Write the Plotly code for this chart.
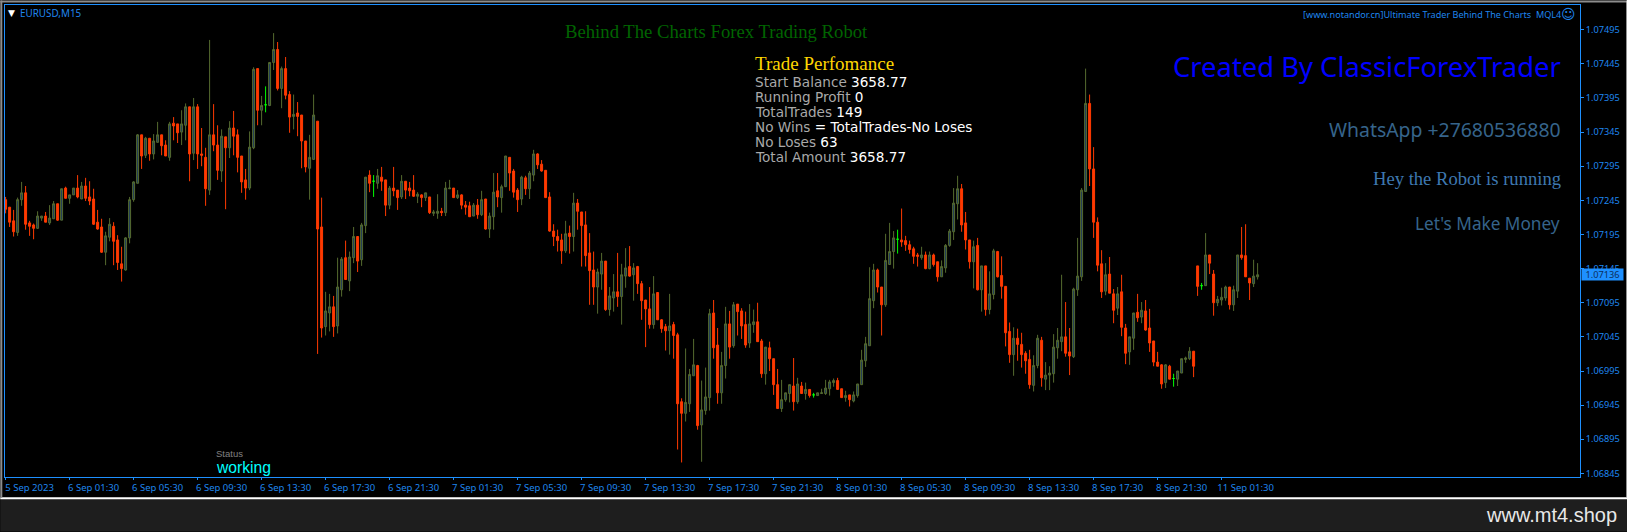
import plotly.graph_objects as go

# EURUSD M15 bars, values in points (1.07246 = 107246)
opens_pts = [
    107246, 107235, 107215, 107198, 107246, 107256, 107212, 107209, 107204, 107219,
    107222, 107212, 107218, 107240, 107216, 107263, 107248, 107253, 107263, 107247,
    107266, 107250, 107247, 107213, 107206, 107169, 107191, 107207, 107187, 107152,
    107143, 107190, 107246, 107270, 107341, 107311, 107336, 107313, 107330, 107341,
    107326, 107308, 107358, 107357, 107345, 107355, 107382, 107314, 107382, 107313,
    107308, 107260, 107341, 107326, 107288, 107338, 107322, 107351, 107341, 107310,
    107275, 107263, 107322, 107438, 107377, 107385, 107384, 107447, 107466, 107409,
    107438, 107400, 107368, 107373, 107370, 107332, 107292, 107305, 107361, 107206,
    107060, 107080, 107089, 107061, 107114, 107161, 107127, 107161, 107192, 107158,
    107208, 107282, 107273, 107270, 107279, 107275, 107238, 107263, 107260, 107250,
    107273, 107263, 107260, 107251, 107253, 107249, 107250, 107226, 107226, 107229,
    107227, 107262, 107263, 107249, 107253, 107238, 107237, 107222, 107238, 107224,
    107247, 107203, 107221, 107259, 107249, 107265, 107308, 107288, 107260, 107247,
    107278, 107262, 107282, 107313, 107298, 107289, 107250, 107200, 107192, 107187,
    107171, 107197, 107192, 107241, 107228, 107209, 107168, 107143, 107118, 107137,
    107156, 107085, 107102, 107111, 107104, 107134, 107148, 107136, 107148, 107123,
    107099, 107086, 107063, 107110, 107070, 107060, 107054, 107063, 107048, 106950,
    106933, 106947, 106988, 107003, 106916, 106937, 106956, 107080, 107033, 106963,
    107003, 107064, 107032, 107093, 107083, 107063, 107036, 107063, 107067, 107039,
    106991, 107029, 107013, 106975, 106940, 106953, 106962, 106973, 106950, 106973,
    106962, 106968, 106960, 106959, 106962, 106962, 106969, 106978, 106981, 106969,
    106956, 106960, 106951, 106959, 106975, 107010, 107032, 107098, 107143, 107118,
    107092, 107151, 107170, 107188, 107187, 107186, 107180, 107174, 107165, 107161,
    107165, 107145, 107165, 107155, 107133, 107146, 107179, 107199, 107240, 107262,
    107212, 107187, 107155, 107179, 107114, 107149, 107085, 107107, 107170, 107135,
    107119, 107053, 107019, 107043, 107034, 107021, 107012, 106974, 107003, 107040,
    106983, 106989, 106991, 107029, 107038, 107045, 107023, 107016, 107114, 107133,
    107258, 107387, 107291, 107213, 107152, 107112, 107137, 107108, 107087, 107111,
    107058, 107023, 107043, 107081, 107074, 107083, 107058, 107039, 107008, 107004,
    106978, 107002, 106984, 106983, 106992, 107012, 107013, 107024, 107149, 107120,
    107120, 107165, 107137, 107095, 107099, 107102, 107118, 107092, 107112, 107165,
    107164, 107131, 107123, 107133,
]
highs_pts = [
    107250, 107235, 107231, 107249, 107272, 107266, 107215, 107211, 107229, 107222,
    107228, 107238, 107244, 107240, 107262, 107265, 107253, 107263, 107282, 107272,
    107278, 107273, 107262, 107231, 107218, 107199, 107219, 107213, 107194, 107177,
    107191, 107250, 107273, 107342, 107341, 107338, 107336, 107342, 107360, 107341,
    107333, 107360, 107367, 107357, 107377, 107387, 107382, 107395, 107386, 107351,
    107322, 107480, 107386, 107355, 107349, 107338, 107361, 107376, 107349, 107310,
    107291, 107346, 107440, 107438, 107398, 107412, 107447, 107490, 107477, 107441,
    107455, 107405, 107400, 107389, 107370, 107332, 107341, 107400, 107361, 107249,
    107111, 107108, 107105, 107161, 107162, 107186, 107170, 107206, 107192, 107212,
    107279, 107289, 107282, 107291, 107294, 107275, 107266, 107294, 107260, 107282,
    107273, 107272, 107282, 107257, 107254, 107256, 107250, 107231, 107254, 107234,
    107272, 107275, 107263, 107260, 107254, 107244, 107243, 107241, 107247, 107259,
    107247, 107227, 107285, 107285, 107268, 107310, 107308, 107291, 107263, 107281,
    107281, 107288, 107319, 107314, 107304, 107289, 107257, 107210, 107202, 107196,
    107215, 107208, 107256, 107247, 107228, 107229, 107197, 107170, 107145, 107168,
    107156, 107118, 107137, 107168, 107152, 107175, 107178, 107153, 107149, 107127,
    107099, 107118, 107134, 107110, 107071, 107064, 107108, 107067, 107051, 106955,
    107028, 106998, 107042, 107004, 106981, 107000, 107086, 107099, 107058, 107023,
    107089, 107083, 107096, 107093, 107087, 107082, 107093, 107085, 107095, 107042,
    107030, 107038, 107013, 106998, 106982, 106963, 106975, 107014, 106985, 106979,
    106978, 106968, 106963, 106963, 106969, 106982, 106982, 106984, 106985, 106969,
    106966, 106960, 106965, 106976, 107026, 107045, 107147, 107152, 107145, 107118,
    107196, 107212, 107200, 107202, 107233, 107193, 107186, 107177, 107168, 107177,
    107170, 107170, 107167, 107155, 107157, 107181, 107203, 107263, 107281, 107269,
    107228, 107187, 107186, 107190, 107149, 107149, 107141, 107174, 107171, 107163,
    107119, 107066, 107059, 107057, 107051, 107024, 107026, 107018, 107048, 107045,
    107008, 107002, 107049, 107058, 107136, 107096, 107058, 107117, 107190, 107263,
    107438, 107400, 107323, 107220, 107172, 107153, 107162, 107115, 107118, 107136,
    107064, 107045, 107080, 107108, 107096, 107099, 107086, 107039, 107023, 107005,
    107005, 107004, 106991, 106995, 107013, 107016, 107030, 107024, 107149, 107124,
    107197, 107165, 107143, 107105, 107117, 107120, 107118, 107120, 107165, 107206,
    107210, 107131, 107158, 107153,
]
lows_pts = [
    107226, 107206, 107192, 107193, 107237, 107202, 107193, 107188, 107203, 107215,
    107213, 107209, 107218, 107215, 107216, 107248, 107240, 107253, 107248, 107247,
    107244, 107238, 107209, 107202, 107168, 107150, 107185, 107150, 107143, 107126,
    107142, 107182, 107243, 107270, 107291, 107307, 107303, 107305, 107330, 107311,
    107310, 107303, 107333, 107329, 107326, 107333, 107273, 107304, 107291, 107295,
    107237, 107253, 107317, 107275, 107272, 107232, 107307, 107311, 107286, 107256,
    107246, 107260, 107320, 107355, 107355, 107374, 107383, 107436, 107406, 107380,
    107393, 107344, 107349, 107339, 107292, 107286, 107246, 107305, 107020, 107044,
    107047, 107053, 107045, 107050, 107104, 107129, 107112, 107153, 107140, 107149,
    107197, 107257, 107250, 107262, 107259, 107222, 107232, 107251, 107231, 107247,
    107247, 107251, 107250, 107241, 107235, 107244, 107225, 107222, 107218, 107222,
    107222, 107262, 107249, 107247, 107232, 107224, 107221, 107222, 107218, 107222,
    107202, 107190, 107202, 107235, 107227, 107265, 107259, 107249, 107228, 107238,
    107253, 107247, 107273, 107291, 107287, 107249, 107199, 107178, 107170, 107152,
    107168, 107167, 107170, 107202, 107148, 107148, 107092, 107092, 107079, 107114,
    107083, 107076, 107082, 107089, 107063, 107117, 107133, 107098, 107108, 107070,
    107030, 107057, 107057, 107070, 107051, 107025, 107019, 107013, 106880, 106861,
    106921, 106935, 106988, 106909, 106862, 106931, 106937, 107013, 106947, 106947,
    106984, 107013, 107029, 107047, 107042, 107029, 107029, 107051, 107038, 106985,
    106975, 106995, 106960, 106940, 106935, 106950, 106949, 106937, 106947, 106962,
    106953, 106956, 106956, 106959, 106962, 106960, 106959, 106972, 106968, 106956,
    106950, 106943, 106949, 106956, 106975, 107001, 107032, 107087, 107110, 107047,
    107089, 107151, 107145, 107167, 107177, 107171, 107167, 107152, 107148, 107158,
    107144, 107144, 107148, 107126, 107133, 107139, 107177, 107187, 107217, 107199,
    107173, 107145, 107116, 107113, 107082, 107076, 107078, 107100, 107132, 107101,
    107031, 107007, 106988, 107010, 107000, 106991, 106969, 106965, 106999, 106972,
    106967, 106967, 106978, 107013, 107024, 107016, 106989, 107014, 107105, 107127,
    107258, 107266, 107190, 107141, 107102, 107106, 107109, 107065, 107077, 107046,
    107005, 107004, 107026, 107067, 107065, 107054, 107023, 107002, 107002, 106969,
    106970, 106983, 106972, 106973, 106992, 107007, 107011, 106986, 107105, 107114,
    107120, 107137, 107076, 107090, 107091, 107098, 107085, 107083, 107102, 107158,
    107133, 107099, 107118, 107129,
]
closes_pts = [
    107232, 107213, 107199, 107246, 107256, 107210, 107207, 107204, 107222, 107222,
    107213, 107219, 107240, 107216, 107262, 107248, 107253, 107263, 107250, 107266,
    107248, 107244, 107210, 107203, 107169, 107193, 107210, 107185, 107154, 107145,
    107190, 107246, 107272, 107341, 107310, 107336, 107313, 107332, 107341, 107325,
    107310, 107357, 107354, 107344, 107357, 107382, 107313, 107382, 107313, 107311,
    107262, 107341, 107326, 107289, 107339, 107322, 107351, 107339, 107308, 107272,
    107263, 107323, 107437, 107377, 107384, 107385, 107447, 107466, 107409, 107438,
    107399, 107367, 107371, 107368, 107332, 107294, 107308, 107370, 107203, 107058,
    107083, 107089, 107060, 107118, 107159, 107129, 107162, 107192, 107156, 107209,
    107279, 107270, 107273, 107281, 107273, 107238, 107263, 107259, 107249, 107273,
    107260, 107259, 107251, 107254, 107249, 107256, 107227, 107228, 107229, 107227,
    107263, 107263, 107249, 107253, 107238, 107235, 107221, 107238, 107224, 107246,
    107203, 107222, 107257, 107250, 107265, 107310, 107285, 107257, 107246, 107279,
    107262, 107285, 107313, 107297, 107288, 107249, 107200, 107192, 107186, 107171,
    107196, 107192, 107241, 107229, 107208, 107164, 107142, 107118, 107140, 107156,
    107085, 107105, 107111, 107104, 107136, 107146, 107134, 107146, 107123, 107098,
    107086, 107063, 107108, 107070, 107057, 107054, 107061, 107047, 106947, 106933,
    106949, 106990, 107004, 106915, 106938, 106957, 107079, 107029, 106963, 107003,
    107064, 107030, 107092, 107082, 107061, 107033, 107064, 107067, 107038, 106991,
    107030, 107013, 106975, 106940, 106953, 106963, 106975, 106950, 106976, 106962,
    106968, 106959, 106960, 106963, 106963, 106970, 106979, 106981, 106968, 106956,
    106959, 106953, 106960, 106976, 107011, 107035, 107101, 107143, 107118, 107092,
    107157, 107170, 107190, 107188, 107184, 107180, 107173, 107163, 107163, 107165,
    107145, 107165, 107151, 107133, 107148, 107179, 107200, 107241, 107262, 107209,
    107187, 107155, 107177, 107114, 107149, 107085, 107108, 107171, 107133, 107119,
    107051, 107019, 107043, 107034, 107019, 107010, 106975, 107003, 107043, 106985,
    106989, 106992, 107030, 107040, 107045, 107021, 107017, 107115, 107134, 107260,
    107387, 107291, 107213, 107150, 107111, 107136, 107109, 107084, 107108, 107059,
    107021, 107045, 107080, 107073, 107084, 107055, 107036, 107008, 107002, 106976,
    107004, 106983, 106984, 106995, 107013, 107014, 107024, 107002, 107119, 107120,
    107165, 107153, 107095, 107100, 107103, 107118, 107092, 107114, 107165, 107161,
    107133, 107124, 107134, 107136,
]

# Time axis labels, one every 16 bars (4 hours)
time_labels = [
    "5 Sep 2023", "6 Sep 01:30", "6 Sep 05:30", "6 Sep 09:30", "6 Sep 13:30",
    "6 Sep 17:30", "6 Sep 21:30", "7 Sep 01:30", "7 Sep 05:30", "7 Sep 09:30",
    "7 Sep 13:30", "7 Sep 17:30", "7 Sep 21:30", "8 Sep 01:30", "8 Sep 05:30",
    "8 Sep 09:30", "8 Sep 13:30", "8 Sep 17:30", "8 Sep 21:30", "11 Sep 01:30",
]
bars_per_label = 16

# Info panel rows: label in gray, value in white
panel_labels = ["Start Balance", "Running Profit", "TotalTrades", "No Wins", "No Loses", "Total Amount"]
panel_values = ["3658.77", "0", "149", "= TotalTrades-No Loses", "63", "3658.77"]

# Figure and plot area in pixels
WIDTH = 1627
HEIGHT = 532
LEFT = 4.7
TOP = 4.5
RIGHT = 1579.7
BOTTOM = 477.3

BLUE = "#1e90ff"
TEXT_BLUE = "#1f86ee"
UP = "#556b2f"
UP_FILL = "#1f3a5c"
DOWN = "#ff3a00"
DOJI = "#00ff00"


def px_x(x):
    return (x - LEFT) / (RIGHT - LEFT)


def px_y(y):
    return 1 - (y - TOP) / (BOTTOM - TOP)


opens = [v / 100000 for v in opens_pts]
highs = [v / 100000 for v in highs_pts]
lows = [v / 100000 for v in lows_pts]
closes = [v / 100000 for v in closes_pts]
bars = list(range(len(opens)))

# Bars with open == close are drawn lime like in MT4
doji = [i for i in bars if opens_pts[i] == closes_pts[i]]
normal = [i for i in bars if opens_pts[i] != closes_pts[i]]

fig = go.Figure()

fig.add_trace(go.Candlestick(
    x=normal,
    open=[opens[i] for i in normal],
    high=[highs[i] for i in normal],
    low=[lows[i] for i in normal],
    close=[closes[i] for i in normal],
    increasing=dict(line=dict(color=UP, width=1), fillcolor=UP_FILL),
    decreasing=dict(line=dict(color=DOWN, width=1), fillcolor=DOWN),
    whiskerwidth=0,
    name="EURUSD,M15",
))
fig.add_trace(go.Candlestick(
    x=doji,
    open=[opens[i] for i in doji],
    high=[highs[i] for i in doji],
    low=[lows[i] for i in doji],
    close=[closes[i] for i in doji],
    increasing=dict(line=dict(color=DOJI, width=1), fillcolor=DOJI),
    decreasing=dict(line=dict(color=DOJI, width=1), fillcolor=DOJI),
    whiskerwidth=0,
    name="doji",
))


def add_text(text, x, y, size, color, family, anchor="left"):
    fig.add_annotation(
        text=text, xref="paper", yref="paper", x=px_x(x), y=px_y(y),
        xanchor=anchor, yanchor="middle", showarrow=False, align=anchor,
        font=dict(size=size, color=color, family=family),
    )


# Chart header and robot texts
add_text("▼", 6, 12.5, 9, "#ffffff", "DejaVu Sans")
add_text("EURUSD,M15", 17.5, 12.7, 9.9, TEXT_BLUE, "Noto Sans")
add_text("Behind The Charts Forex Trading Robot", 563, 30.7, 18.7, "#006400", "Liberation Serif")
add_text("[www.notandor.cn]Ultimate Trader Behind The Charts  MQL4", 1563.5, 14, 9.1, TEXT_BLUE, "Noto Sans", "right")
add_text("☺", 1568, 14, 14, TEXT_BLUE, "DejaVu Sans", "center")

add_text("Created By ClassicForexTrader", 1563, 66, 27.4, "#0000ff", "Noto Sans", "right")
add_text("WhatsApp +27680536880", 1563, 129, 19.4, "#36648b", "Noto Sans", "right")
add_text("Hey the Robot is running", 1563, 178.5, 18.6, "#3e78b0", "Liberation Serif", "right")
add_text("Let's Make Money", 1562, 223, 17.2, "#36648b", "Noto Sans", "right")

# Trade performance panel
add_text("Trade Perfomance", 753, 62.8, 19, "#ffd700", "Liberation Serif")
for row, (label, value) in enumerate(zip(panel_labels, panel_values)):
    add_text(
        '<span style="color:#a9a9a9">' + label + '</span> ' + value,
        753, 81.7 + row * 15, 13.6, "#ffffff", "DejaVu Sans",
    )

# Status block
add_text("Status", 214, 454, 9.5, "#808080", "Liberation Sans")
add_text("working", 213.5, 467.5, 15.7, "#00ffff", "Liberation Sans")

# Last price tag on the price axis
fig.add_annotation(
    text=f"{closes[-1]:.5f}", xref="paper", yref="y", x=px_x(1581), y=closes[-1],
    xanchor="left", yanchor="middle", showarrow=False, bgcolor=BLUE, borderpad=0,
    width=41, height=11, align="center",
    font=dict(size=9.2, color="#0c2f5c", family="Noto Sans"),
)

# Watermark at the bottom
add_text("www.mt4.shop", 1619, 515, 20, "#e8e8e8", "Liberation Sans", "right")

# Window frame and bottom strip
frame = [
    (0, 498, WIDTH, HEIGHT, "#1e1e1e"),
    (0, 497.7, WIDTH, 499.7, "#ffffff"),
    (0, 0, WIDTH, 2, "#8c8c8c"),
    (0, 0, 2, 498, "#8c8c8c"),
    (1626, 0, WIDTH, 498, "#d0d0d0"),
]
for x0, y0, x1, y1, color in frame:
    fig.add_shape(
        type="rect", xref="paper", yref="paper", layer="below",
        x0=px_x(x0), x1=px_x(x1), y0=px_y(y0), y1=px_y(y1),
        fillcolor=color, line_width=0,
    )

fig.update_xaxes(
    range=[-0.15, 393.6],
    tickmode="array",
    tickvals=[i * bars_per_label for i in range(len(time_labels))],
    ticktext=time_labels,
    ticks="outside", ticklen=2, tickcolor=BLUE, tickwidth=1,
    ticklabelshift=24,
    tickfont=dict(size=9.5, color=TEXT_BLUE, family="Noto Sans"),
    showline=True, linecolor=BLUE, linewidth=1, mirror=True,
    showgrid=False, zeroline=False,
    rangeslider_visible=False,
)
fig.update_yaxes(
    range=[1.068397, 1.075312],
    side="right",
    tick0=1.06845, dtick=0.0005, tickformat=".5f",
    ticks="outside", ticklen=3, tickcolor=BLUE, tickwidth=1,
    tickfont=dict(size=9.2, color=TEXT_BLUE, family="Noto Sans"),
    showline=True, linecolor=BLUE, linewidth=1, mirror=True,
    showgrid=False, zeroline=False,
)

fig.update_layout(
    width=WIDTH,
    height=HEIGHT,
    margin=dict(l=LEFT, r=WIDTH - RIGHT, t=TOP, b=HEIGHT - BOTTOM, pad=0, autoexpand=False),
    paper_bgcolor="#000000",
    plot_bgcolor="#000000",
    showlegend=False,
    boxgap=0.3,
    boxgroupgap=0.3,
    boxmode="overlay",
    hovermode=False,
)

fig.write_html(
    "out.html",
    config={"displayModeBar": False},
    post_script="document.body.style.margin='0';document.body.style.overflow='hidden';",
)
